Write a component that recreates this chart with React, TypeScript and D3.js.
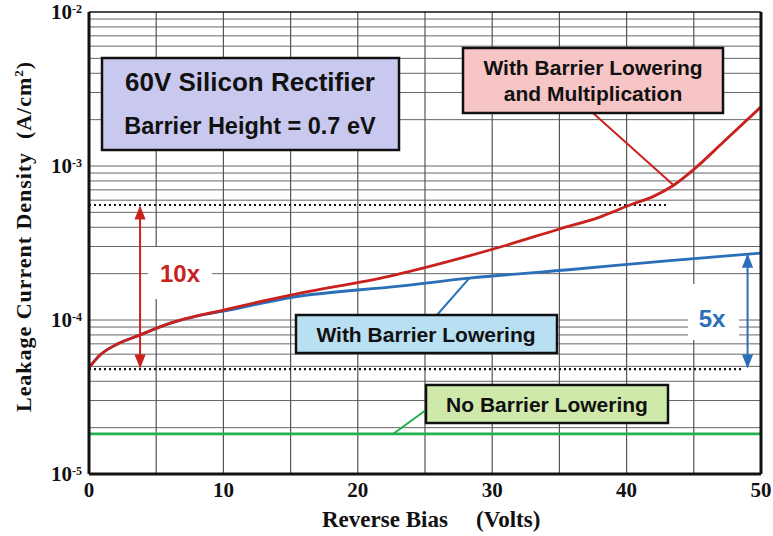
import React from "react";
import * as d3 from "d3";

const W = 773;
const H = 536;

// Data
const redV = [0, 0.8, 2, 3.8, 6, 10, 15, 22.4, 30.6, 35, 38, 40.25, 42, 43.5, 45, 47.2, 50];
const redJ = [4.9e-5, 5.9e-5, 6.9e-5, 8.0e-5, 9.5e-5, 1.16e-4, 1.45e-4, 1.93e-4, 2.98e-4, 3.9e-4, 4.66e-4, 5.58e-4, 6.35e-4, 7.5e-4, 9.5e-4, 1.43e-3, 2.42e-3];
const blueV = [0, 0.8, 2, 3.8, 6, 8, 10, 15, 23.1, 28.3, 35.7, 43, 50];
const blueJ = [4.9e-5, 5.9e-5, 6.9e-5, 8.0e-5, 9.5e-5, 1.06e-4, 1.14e-4, 1.4e-4, 1.66e-4, 1.87e-4, 2.12e-4, 2.42e-4, 2.72e-4];
const greenV = [0, 50];
const greenJ = [1.82e-5, 1.82e-5];
const xTicks = [0, 10, 20, 30, 40, 50];
const yTickExp = [-2, -3, -4, -5];
const refLow = 4.8e-5;
const refHigh = 5.58e-4;

const X0 = 89, X1 = 761, Y0 = 474, Y1 = 12;

export default function App() {
  const x = d3.scaleLinear().domain([0, 50]).range([X0, X1]);
  const y = d3.scaleLog().domain([1e-5, 1e-2]).range([Y0, Y1]);

  const line = d3
    .line<[number, number]>()
    .x((d) => x(d[0]))
    .y((d) => y(d[1]))
    .curve(d3.curveMonotoneX);

  const red = redV.map((v, i) => [v, redJ[i]] as [number, number]);
  const blue = blueV.map((v, i) => [v, blueJ[i]] as [number, number]);
  const green = greenV.map((v, i) => [v, greenJ[i]] as [number, number]);

  const minor: number[] = [];
  for (let e = -5; e < -2; e++) {
    for (let m = 1; m <= 9; m++) minor.push(m * Math.pow(10, e));
  }
  const vgrid = d3.range(0, 51, 5);

  const sans = "'Liberation Sans', Arial, sans-serif";
  const serif = "'Liberation Serif', 'Times New Roman', serif";
  const RED = "#c9211e";
  const BLUE = "#2b6fb8";
  const GREEN = "#22b14c";

  return (
    <svg width={W} height={H} style={{ position: "absolute", left: 0, top: 0 }}>
      <defs>
        <marker id="arrR" viewBox="0 0 10 10" refX="9" refY="5" markerWidth="7" markerHeight="7" orient="auto-start-reverse">
          <path d="M0,1 L10,5 L0,9 z" fill={RED} />
        </marker>
        <marker id="arrB" viewBox="0 0 10 10" refX="9" refY="5" markerWidth="7" markerHeight="7" orient="auto-start-reverse">
          <path d="M0,1 L10,5 L0,9 z" fill={BLUE} />
        </marker>
      </defs>
      <rect x={0} y={0} width={W} height={H} fill="#fff" />
      {/* grid */}
      {minor.map((v, i) => (
        <line key={"h" + i} x1={X0} x2={X1} y1={y(v)} y2={y(v)} stroke="#666" strokeWidth={1} />
      ))}
      {vgrid.map((v) => (
        <line key={"v" + v} x1={x(v)} x2={x(v)} y1={Y1} y2={Y0} stroke="#555" strokeWidth={1.2} />
      ))}
      {/* white label backgrounds */}
      <rect x={148} y={247} width={64} height={52} fill="#fff" />
      <rect x={688} y={284} width={51} height={56} fill="#fff" />

      {/* dotted reference lines */}
      <line x1={X0} x2={x(43.1)} y1={y(refHigh)} y2={y(refHigh)} stroke="#111" strokeWidth={2.2} strokeDasharray="2,3" />
      <line x1={X0} x2={x(48.7)} y1={y(refLow)} y2={y(refLow)} stroke="#111" strokeWidth={2.2} strokeDasharray="2,3" />

      {/* curves */}
      <path d={line(green) || ""} fill="none" stroke={GREEN} strokeWidth={2.8} />
      <path d={line(blue) || ""} fill="none" stroke={BLUE} strokeWidth={2.8} />
      <path d={line(red) || ""} fill="none" stroke={RED} strokeWidth={2.8} />

      {/* arrows */}
      <line x1={x(3.8)} x2={x(3.8)} y1={y(refHigh) + 2} y2={y(refLow) - 2} stroke={RED} strokeWidth={2} markerStart="url(#arrR)" markerEnd="url(#arrR)" />
      <line x1={x(49.0)} x2={x(49.0)} y1={y(2.72e-4) + 2} y2={y(refLow) - 2} stroke={BLUE} strokeWidth={2} markerStart="url(#arrB)" markerEnd="url(#arrB)" />
      <text x={180} y={282} textAnchor="middle" fontFamily={sans} fontWeight="bold" fontSize={24} fill={RED}>10x</text>
      <text x={712} y={327} textAnchor="middle" fontFamily={sans} fontWeight="bold" fontSize={24} fill={BLUE}>5x</text>

      {/* callout lines */}
      <line x1={x(43.5)} y1={y(7.5e-4)} x2={593} y2={113} stroke={RED} strokeWidth={2} />
      <line x1={x(28.3)} y1={y(1.87e-4)} x2={437} y2={315} stroke={BLUE} strokeWidth={2} />
      <line x1={393} y1={y(1.82e-5)} x2={426} y2={410} stroke={GREEN} strokeWidth={2} />

      {/* plot frame */}
      <line x1={X0} x2={X1} y1={Y1} y2={Y1} stroke="#111" strokeWidth={1.5} />
      <line x1={X0} x2={X0} y1={Y1} y2={Y0} stroke="#111" strokeWidth={3} />
      <line x1={X1} x2={X1} y1={Y1} y2={Y0} stroke="#111" strokeWidth={3} />
      <line x1={X0} x2={X1} y1={Y0} y2={Y0} stroke="#111" strokeWidth={3} />

      {/* boxes */}
      <rect x={102} y={58} width={297} height={92} fill="#c9c9ef" stroke="#111" strokeWidth={2.5} />
      <text x={250} y={91} textAnchor="middle" fontFamily={sans} fontWeight="bold" fontSize={26} fill="#111">60V Silicon Rectifier</text>
      <text x={250} y={134} textAnchor="middle" fontFamily={sans} fontWeight="bold" fontSize={23.5} fill="#111">Barrier Height = 0.7 eV</text>

      <rect x={463} y={48} width={260} height={65} fill="#f7c5c5" stroke="#111" strokeWidth={2.5} />
      <text x={593} y={75} textAnchor="middle" fontFamily={sans} fontWeight="bold" fontSize={21} fill="#111">With Barrier Lowering</text>
      <text x={593} y={101} textAnchor="middle" fontFamily={sans} fontWeight="bold" fontSize={21} fill="#111">and Multiplication</text>

      <rect x={296} y={315} width={261} height={38} fill="#b8e0f2" stroke="#111" strokeWidth={2.5} />
      <text x={426} y={342} textAnchor="middle" fontFamily={sans} fontWeight="bold" fontSize={21} fill="#111">With Barrier Lowering</text>

      <rect x={426} y={385} width={242} height={38} fill="#cfe9aa" stroke="#111" strokeWidth={2.5} />
      <text x={547} y={412} textAnchor="middle" fontFamily={sans} fontWeight="bold" fontSize={21} fill="#111">No Barrier Lowering</text>

      {/* y tick labels */}
      {yTickExp.map((e) => (
        <text key={"yt" + e} x={82} y={y(Math.pow(10, e)) + 7} textAnchor="end" fontFamily={serif} fontWeight="bold" fontSize={21} fill="#111">
          10<tspan dy={-6} fontSize={12}>{e}</tspan>
        </text>
      ))}
      {/* x tick labels */}
      {xTicks.map((t) => (
        <text key={"xt" + t} x={x(t)} y={497} textAnchor="middle" fontFamily={serif} fontWeight="bold" fontSize={21} fill="#111">{t}</text>
      ))}
      <text x={322} y={527} textAnchor="start" fontFamily={serif} fontWeight="bold" fontSize={23} fill="#111">Reverse Bias</text>
      <text x={476} y={527} textAnchor="start" fontFamily={serif} fontWeight="bold" fontSize={23} fill="#111">(Volts)</text>
      <text transform={`translate(31,237) rotate(-90)`} textAnchor="middle" fontFamily={serif} fontWeight="bold" fontSize={22} fill="#111" textLength={350} lengthAdjust="spacing" style={{ whiteSpace: "pre" }}>
        {"Leakage Current Density  (A/cm"}<tspan dy={-8} fontSize={13}>2</tspan><tspan dy={8}>)</tspan>
      </text>
    </svg>
  );
}
